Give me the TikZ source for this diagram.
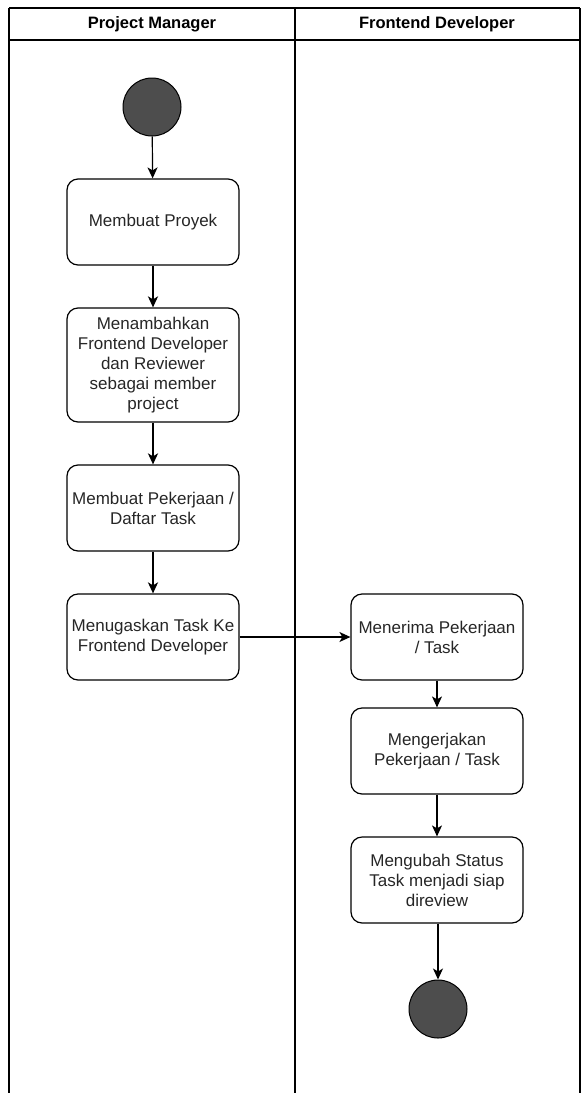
\documentclass[tikz,border=0pt]{standalone}
\usepackage{fontspec}
\setmainfont{Liberation Sans}
\usetikzlibrary{arrows.meta}
\definecolor{circfill}{HTML}{4D4D4D}
\definecolor{txt}{HTML}{262626}
\tikzset{
  lane/.style={line width=1.3pt, draw=black},
  actbox/.style={draw=black, line width=1.2pt, rounded corners=11pt, minimum width=172pt, minimum height=86pt, align=center, inner sep=2pt, text=txt, font=\fontsize{17}{20}\selectfont},
  startend/.style={circle, draw=black, line width=1pt, fill=circfill, minimum size=58pt, inner sep=0pt},
  hdr/.style={font=\bfseries\fontsize{16.5}{20}\selectfont, text=black},
  flow/.style={line width=1.2pt, -{Stealth[length=11pt,width=10pt,inset=3pt]}},
  flowthick/.style={line width=2pt, -{Stealth[length=11pt,width=10pt,inset=3pt]}}
}
\begin{document}
\begin{tikzpicture}[x=1pt,y=-1pt]
\useasboundingbox (0,0) rectangle (582,1093);
% swimlanes
\coordinate (tl) at (9,8);
\coordinate (tm) at (295,8);
\coordinate (tr) at (580,8);
\coordinate (bl) at (9,1093);
\coordinate (bm) at (295,1093);
\coordinate (br) at (580,1093);
\coordinate (hl) at (9,40);
\coordinate (hr) at (580,40);
\draw[lane] (tl) -- (tr);
\draw[lane] (hl) -- (hr);
\draw[lane] (tl) -- (bl);
\draw[lane] (tm) -- (bm);
\draw[lane] (tr) -- (br);
\node[hdr] (h1) at (152,24) {Project Manager};
\node[hdr] (h2) at (437,24) {Frontend Developer};
% nodes
\node[startend] (start) at (152,107) {};
\node[actbox] (b1) at (153,222) {Membuat Proyek};
\node[actbox, minimum height=114pt] (b2) at (153,365) {Menambahkan\\Frontend Developer\\dan Reviewer\\sebagai member\\project};
\node[actbox] (b3) at (153,508) {Membuat Pekerjaan /\\Daftar Task};
\node[actbox] (b4) at (153,637) {Menugaskan Task Ke\\Frontend Developer};
\node[actbox] (b5) at (437,637) {Menerima Pekerjaan\\/ Task};
\node[actbox] (b6) at (437,751) {Mengerjakan\\Pekerjaan / Task};
\node[actbox] (b7) at (437,880) {Mengubah Status\\Task menjadi siap\\direview};
\node[startend] (end) at (438,1009) {};
% connectors
\draw[flow] (start) -- (b1);
\draw[flowthick] (b1) -- (b2);
\draw[flowthick] (b2) -- (b3);
\draw[flowthick] (b3) -- (b4);
\draw[flow] (b4) -- (b5);
\draw[flow] (b5) -- (b6);
\draw[flow] (b6) -- (b7);
\draw[flow] (b7.south -| end) -- (end);
\end{tikzpicture}
\end{document}
